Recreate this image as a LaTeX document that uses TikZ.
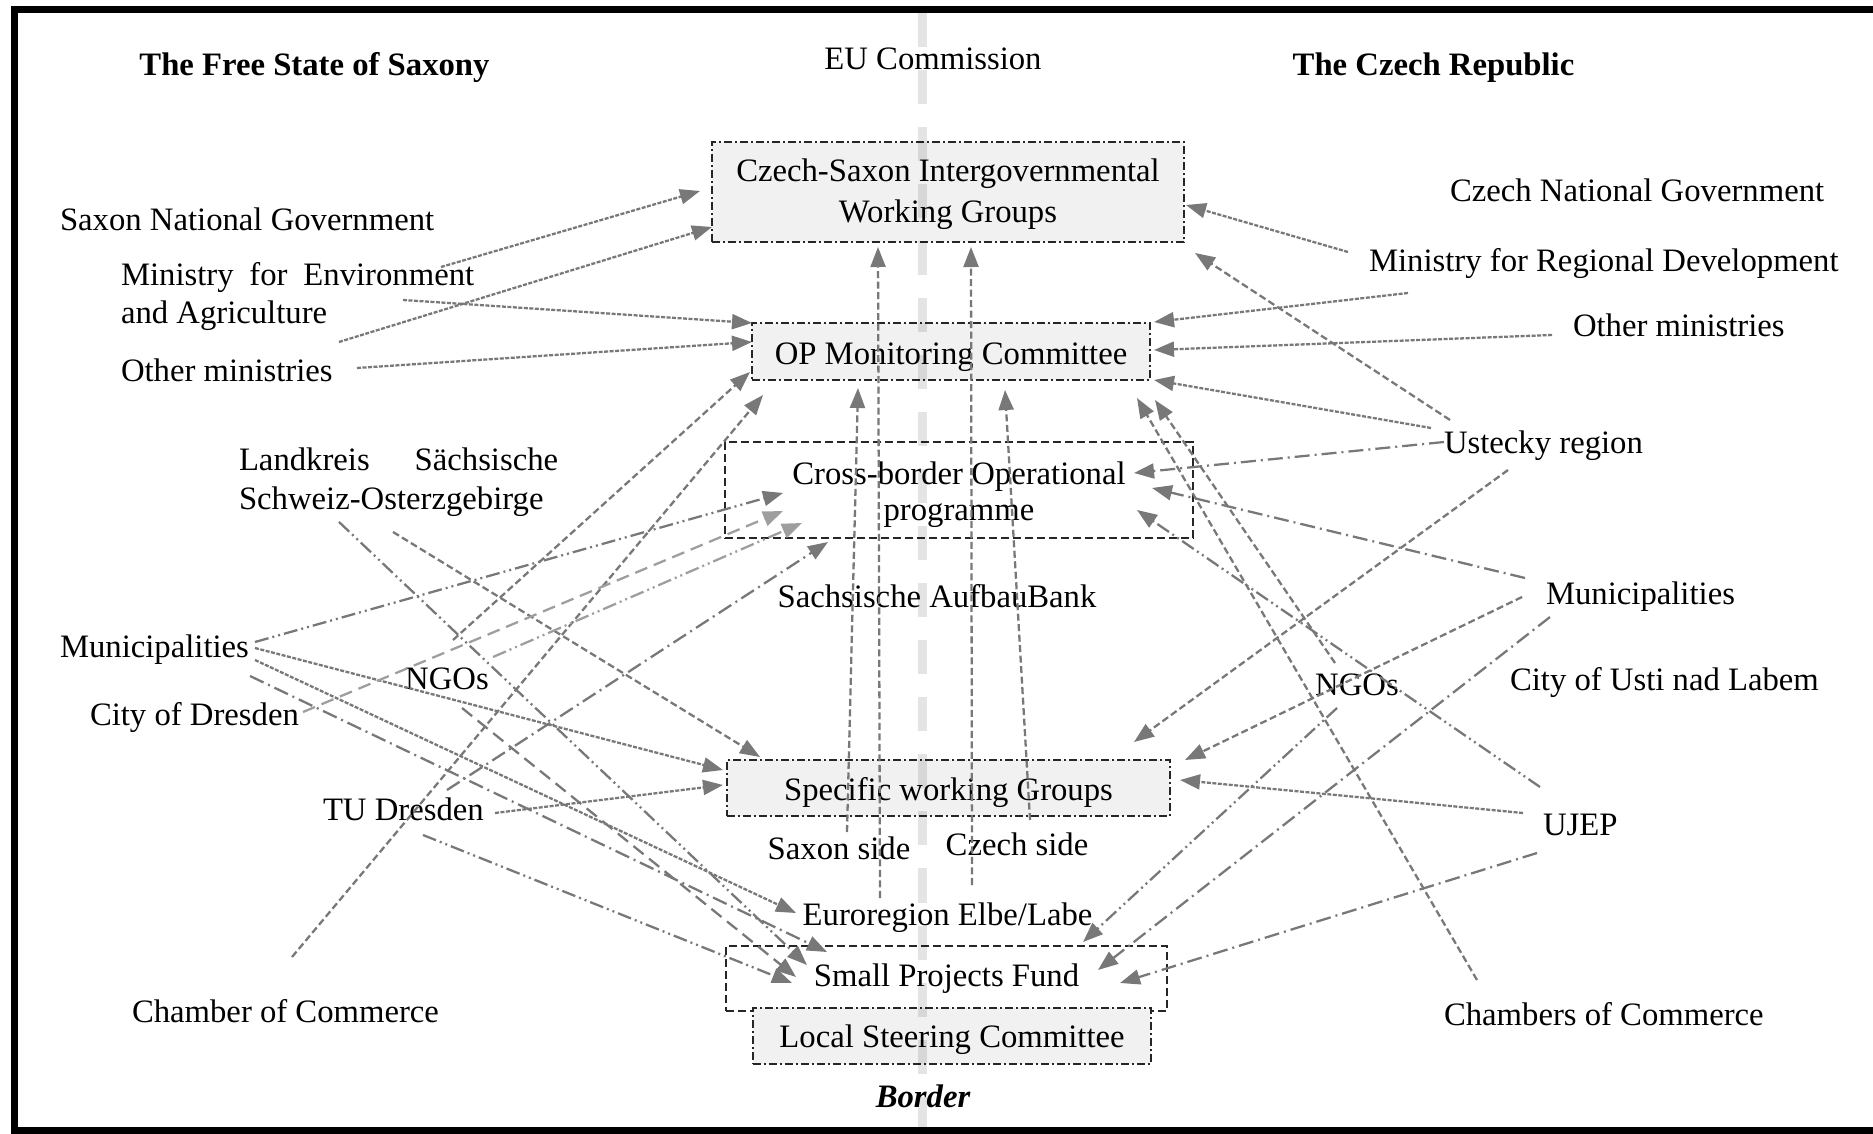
\documentclass[tikz,border=0pt]{standalone}
\usepackage{fontspec}
\setmainfont{Liberation Serif}
\usetikzlibrary{arrows.meta,calc}

\definecolor{linegray}{RGB}{120,120,120}
\definecolor{lightline}{RGB}{158,158,158}
\definecolor{boxfill}{RGB}{241,241,241}
\definecolor{stripe}{RGB}{228,228,228}

\begin{document}
\begin{tikzpicture}[x=0.01cm,y=-0.01cm,
  every node/.style={inner sep=0pt, outer sep=0pt, font=\fontsize{9.3pt}{11pt}\selectfont},
  lbl/.style={anchor=base west, yshift=-0.02cm},
  clbl/.style={anchor=base, yshift=-0.02cm},
  para/.style={anchor=north west, align=left, yshift=-0.02cm},
  shadedbox/.style={draw=black!85, line width=0.5pt, fill=boxfill,
    dash pattern=on 0.08cm off 0.03cm on 0.02cm off 0.03cm, align=center},
  openbox/.style={draw=black!85, line width=0.5pt,
    dash pattern=on 0.08cm off 0.04cm, align=center},
  lowtext/.style={text height=0.26cm, text depth=0.01cm},
  link/.style={draw=linegray, line width=0.65pt, -{Triangle[length=0.2cm,width=0.15cm]}},
  fine/.style={link, dash pattern=on 0.04cm off 0.015cm},
  thind/.style={link, dash pattern=on 0.07cm off 0.035cm},
  dd/.style={link, dash pattern=on 0.15cm off 0.05cm on 0.02cm off 0.05cm},
  ddd/.style={link, dash pattern=on 0.14cm off 0.04cm on 0.02cm off 0.04cm on 0.02cm off 0.04cm},
  ld/.style={link, dash pattern=on 0.13cm off 0.07cm},
  pale/.style={draw=lightline},
]
\useasboundingbox (0,0) rectangle (1873,1134);

% ---------- central bodies ----------
\node[shadedbox, minimum width=4.72cm, minimum height=1cm,
  label={[align=center, font=\fontsize{9.3pt}{11.55pt}\selectfont, yshift=-0.024cm]center:Czech-Saxon Intergovernmental\\Working Groups}]
  (csiwg) at (948,192) {};
\node[shadedbox, lowtext, minimum width=3.98cm, minimum height=0.57cm] (opmc) at (951,351.5)
  {OP Monitoring Committee};
\node[openbox, minimum width=4.68cm, minimum height=0.96cm,
  label={[align=center, font=\fontsize{9.3pt}{10.5pt}\selectfont, yshift=-0.047cm]center:Cross-border Operational\\programme}]
  (cbop) at (959,490) {};
\node[shadedbox, lowtext, minimum width=4.43cm, minimum height=0.56cm] (swg) at (948.5,788)
  {Specific working Groups};
\node[openbox, minimum width=4.41cm, minimum height=0.65cm] (spf) at (946.5,978.5)
  {Small Projects Fund};
\node[shadedbox, text height=0.25cm, text depth=0.02cm, minimum width=3.98cm, minimum height=0.56cm] (lsc) at (952,1036)
  {Local Steering Committee};

% ---------- headings ----------
\node[clbl] (saxony) at (314.5,74) {\bfseries The Free State of Saxony};
\node[clbl] (eu) at (933,68) {EU Commission};
\node[clbl] (czech) at (1433.5,74) {\bfseries The Czech Republic};
\node[clbl] (border) at (923,1105) {\bfseries\itshape Border};

% ---------- Saxon actors ----------
\node[lbl] (saxgov) at (60,229) {Saxon National Government};
\node[para] (minenv) at (121,260) {\makebox[3.53cm][s]{Ministry for Environment}\\and Agriculture};
\node[lbl] (othminl) at (121,380) {Other ministries};
\node[para] (landkreis) at (239,446) {\makebox[3.19cm][s]{Landkreis Sächsische}\\Schweiz-Osterzgebirge};
\node[lbl] (munil) at (60,655) {Municipalities};
\node[lbl] (dresden) at (90,723) {City of Dresden};
\node[clbl] (ngosl) at (447,687) {NGOs};
\node[lbl] (tud) at (323,818) {TU Dresden};
\node[lbl] (chamberl) at (132,1020) {Chamber of Commerce};

% ---------- central labels ----------
\node[clbl] (sab) at (937,605) {Sachsische AufbauBank};
\node[clbl] (saxside) at (839,857) {Saxon side};
\node[clbl] (czside) at (1017,853) {Czech side};
\node[clbl] (euroreg) at (947.5,923) {Euroregion Elbe/Labe};

% ---------- Czech actors ----------
\node[lbl] (czgov) at (1450,200) {Czech National Government};
\node[lbl] (minreg) at (1369,270) {Ministry for Regional Development};
\node[lbl] (othminr) at (1573,335) {Other ministries};
\node[lbl] (ustecky) at (1444,452) {Ustecky region};
\node[lbl] (munir) at (1546,602) {Municipalities};
\node[clbl] (ngosr) at (1357,693) {NGOs};
\node[lbl] (usti) at (1510,688) {City of Usti nad Labem};
\node[lbl] (ujep) at (1543,833) {UJEP};
\node[lbl] (chambersr) at (1444,1023) {Chambers of Commerce};

% ---------- connector end points ----------
\coordinate (minenv-o1) at (441,267);   \coordinate (csiwg-i1) at (700,191);
\coordinate (othminl-o1) at (339,342);  \coordinate (csiwg-i2) at (712,227);
\coordinate (minenv-o2) at (403,300);   \coordinate (opmc-i1) at (752,323);
\coordinate (othminl-o2) at (357,368);  \coordinate (opmc-i2) at (752,342);
\coordinate (minreg-o1) at (1348,252);  \coordinate (csiwg-i3) at (1186,205);
\coordinate (minreg-o2) at (1408,293);  \coordinate (opmc-i3) at (1154,322);
\coordinate (othminr-o1) at (1552,335); \coordinate (opmc-i4) at (1154,350);
\coordinate (ustecky-o1) at (1431,428); \coordinate (opmc-i5) at (1154,380);
\coordinate (ustecky-o2) at (1450,420); \coordinate (csiwg-i4) at (1195,253);
\coordinate (ustecky-o3) at (1444,442); \coordinate (cbop-i1) at (1134,473);
\coordinate (ustecky-o4) at (1508,470); \coordinate (swg-i1) at (1134,742);
\coordinate (munir-o1) at (1525,578);   \coordinate (cbop-i2) at (1152,488);
\coordinate (munir-o2) at (1522,597);   \coordinate (swg-i2) at (1185,760);
\coordinate (usti-o1) at (1550,617);    \coordinate (spf-i1) at (1098,970);
\coordinate (ngosr-o1) at (1337,708);   \coordinate (spf-i2) at (1083,942);
\coordinate (ujep-o1) at (1537,853);    \coordinate (spf-i3) at (1120,983);
\coordinate (ujep-o2) at (1523,813);    \coordinate (swg-i3) at (1180,780);
\coordinate (usti-o2) at (1540,787);    \coordinate (cbop-i3) at (1137,510);
\coordinate (ngosr-o2) at (1335,663);   \coordinate (opmc-i6) at (1155,400);
\coordinate (chambersr-o1) at (1477,980); \coordinate (opmc-i7) at (1137,398);
\coordinate (saxside-o) at (847,832);   \coordinate (opmc-i8) at (858,388);
\coordinate (euroreg-o1) at (880,898);  \coordinate (csiwg-i5) at (878,247);
\coordinate (euroreg-o2) at (972,885);  \coordinate (csiwg-i6) at (971,247);
\coordinate (czside-o) at (1030,820);   \coordinate (opmc-i9) at (1005,390);
\coordinate (chamberl-o) at (292,957);  \coordinate (opmc-i10) at (763,395);
\coordinate (ngosl-o1) at (453,640);    \coordinate (opmc-i11) at (750,372);
\coordinate (landkreis-o1) at (393,532); \coordinate (swg-i4) at (760,757);
\coordinate (landkreis-o2) at (339,522); \coordinate (spf-i4) at (807,965);
\coordinate (munil-o1) at (255,642);    \coordinate (cbop-i4) at (783,493);
\coordinate (munil-o2) at (255,648);    \coordinate (swg-i5) at (723,770);
\coordinate (munil-o3) at (255,660);    \coordinate (euroreg-i) at (796,913);
\coordinate (munil-o4) at (250,676);    \coordinate (spf-i5) at (827,952);
\coordinate (dresden-o) at (303,712);   \coordinate (cbop-i5) at (783,511);
\coordinate (ngosl-o2) at (493,657);    \coordinate (cbop-i6) at (802,523);
\coordinate (tud-o1) at (447,790);      \coordinate (cbop-i7) at (828,542);
\coordinate (tud-o2) at (495,813);      \coordinate (swg-i6) at (723,785);
\coordinate (tud-o3) at (423,835);      \coordinate (spf-i6) at (792,983);
\coordinate (ngosl-o3) at (462,708);    \coordinate (spf-i7) at (796,977);

% ---------- Saxon side connectors ----------
\draw[fine] (minenv-o1) -- (csiwg-i1);
\draw[fine] (othminl-o1) -- (csiwg-i2);
\draw[fine] (minenv-o2) -- (opmc-i1);
\draw[fine] (othminl-o2) -- (opmc-i2);
\draw[thind] (chamberl-o) -- (opmc-i10);
\draw[thind] (ngosl-o1) -- (opmc-i11);
\draw[thind] (landkreis-o1) -- (swg-i4);
\draw[ddd] (landkreis-o2) -- (spf-i4);
\draw[ddd] (munil-o1) -- (cbop-i4);
\draw[fine] (munil-o2) -- (swg-i5);
\draw[fine] (munil-o3) -- (euroreg-i);
\draw[dd] (munil-o4) -- (spf-i5);
\draw[ld, pale] (dresden-o) -- (cbop-i5);
\draw[ddd, pale] (ngosl-o2) -- (cbop-i6);
\draw[dd] (tud-o1) -- (cbop-i7);
\draw[fine] (tud-o2) -- (swg-i6);
\draw[ddd] (tud-o3) -- (spf-i6);
\draw[ld] (ngosl-o3) -- (spf-i7);

% ---------- central connectors ----------
\draw[thind] (saxside-o) -- (opmc-i8);
\draw[thind] (euroreg-o1) -- (csiwg-i5);
\draw[thind] (euroreg-o2) -- (csiwg-i6);
\draw[thind] (czside-o) -- (opmc-i9);

% ---------- Czech side connectors ----------
\draw[fine] (minreg-o1) -- (csiwg-i3);
\draw[fine] (minreg-o2) -- (opmc-i3);
\draw[fine] (othminr-o1) -- (opmc-i4);
\draw[fine] (ustecky-o1) -- (opmc-i5);
\draw[thind] (ustecky-o2) -- (csiwg-i4);
\draw[dd] (ustecky-o3) -- (cbop-i1);
\draw[thind] (ustecky-o4) -- (swg-i1);
\draw[dd] (munir-o1) -- (cbop-i2);
\draw[thind] (munir-o2) -- (swg-i2);
\draw[dd] (usti-o1) -- (spf-i1);
\draw[ddd] (ngosr-o1) -- (spf-i2);
\draw[dd] (ujep-o1) -- (spf-i3);
\draw[fine] (ujep-o2) -- (swg-i3);
\draw[ddd] (usti-o2) -- (cbop-i3);
\draw[thind] (ngosr-o2) -- (opmc-i6);
\draw[thind] (chambersr-o1) -- (opmc-i7);

% ---------- the border stripe ----------
\begin{scope}[blend mode=multiply]
  \draw[stripe, line width=0.09cm, dash pattern=on 0.34cm off 0.23cm] (922,13) -- (922,1127);
\end{scope}

% ---------- frame ----------
\draw[line width=0.07cm] (1873,9.5) -- (14.5,9.5) -- (14.5,1130) -- (1873,1130);
\end{tikzpicture}
\end{document}
